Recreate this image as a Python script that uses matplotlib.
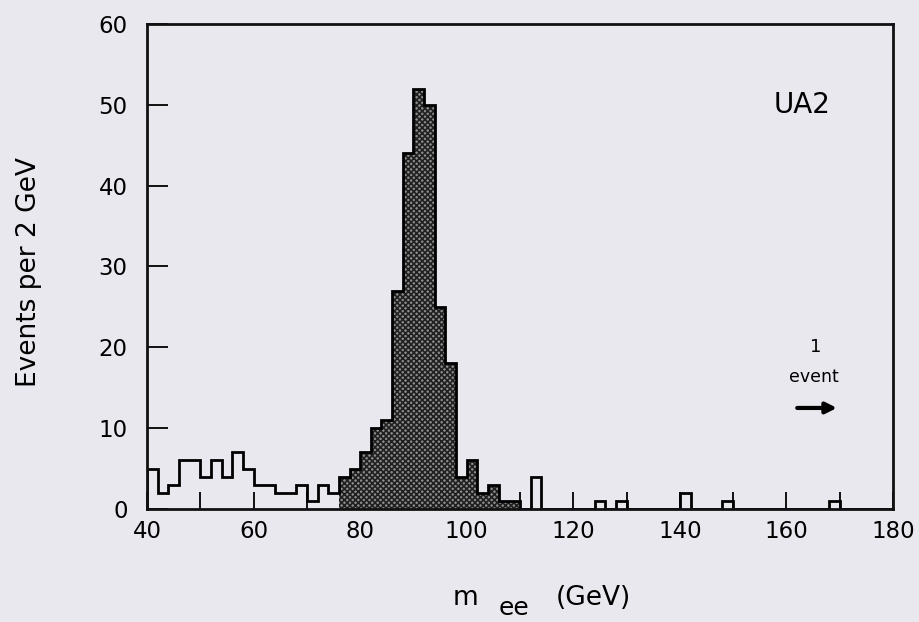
import numpy as np
import matplotlib
matplotlib.use("Agg")
import matplotlib.pyplot as plt

# ---- data (events per 2 GeV bin) ----
bin_edges = np.arange(40, 182, 2)

# open histogram, low-mass region 40-76 GeV
low_counts = [5, 2, 3, 6, 6, 4, 6, 4, 7, 5, 3, 3, 2, 2, 3, 1, 3, 2]
# shaded Z peak region 76-110 GeV
peak_counts = [4, 5, 7, 10, 11, 27, 44, 52, 50, 25, 18, 4, 6, 2, 3, 1, 1]
# open histogram, high-mass region 110-180 GeV
high_bins = [112, 124, 128, 140, 148, 168]     # lower edges of non-empty bins
high_vals = [4, 1, 1, 2, 1, 1]

n_bins = len(bin_edges) - 1
counts = np.zeros(n_bins)
counts[:len(low_counts)] = low_counts
counts[len(low_counts):len(low_counts) + len(peak_counts)] = peak_counts
for b, v in zip(high_bins, high_vals):
    counts[(b - 40) // 2] = v

peak_lo = 40 + 2 * len(low_counts)
peak_edges = np.arange(peak_lo, peak_lo + 2 * len(peak_counts) + 1, 2)

bg = "#e9e8ef"
fig = plt.figure(figsize=(9.19, 6.22), dpi=100, facecolor=bg)
ax = fig.add_axes([0.160, 0.1817, 0.8117, 0.7797])
ax.set_facecolor(bg)
ax.set_axisbelow(True)

plt.rcParams['hatch.linewidth'] = 1.2
# shaded peak
ax.stairs(peak_counts, peak_edges, fill=True, facecolor="#8c8c8c",
          edgecolor="#202020", hatch="xxxxxx", linewidth=0, zorder=2)
# outline of full histogram
ax.stairs(counts, bin_edges, fill=False, color="black", linewidth=2.0, zorder=3)

ax.set_xlim(40, 180)
ax.set_ylim(0, 60)
ax.set_xticks(np.arange(40, 181, 20))
ax.set_xticks(np.arange(50, 180, 20), minor=True)
ax.set_yticks(np.arange(0, 61, 10))
ax.tick_params(axis="both", which="both", direction="in", width=1.3,
               labelsize=16.5, colors="black")
ax.tick_params(axis="x", which="both", length=12, pad=8)
ax.tick_params(axis="y", which="both", length=15, pad=14)
ax.tick_params(axis="x", which="both", top=False)
ax.tick_params(axis="y", which="both", right=False)
for sp in ax.spines.values():
    sp.set_linewidth(2.0)
    sp.set_color("#111111")
    sp.set_zorder(4)

# annotations
ax.text(163, 50, "UA2", fontsize=20, ha="center", va="center")
ax.text(165.4, 20, "1", fontsize=13, ha="center", va="center")
ax.text(165.2, 16.3, "event", fontsize=12.5, ha="center", va="center")
ax.annotate("", xy=(170, 12.5), xytext=(161.5, 12.5),
            arrowprops=dict(arrowstyle="-|>", color="black", lw=3,
                            mutation_scale=16))

# axis labels
fig.text(29 / 919, 1 - 272 / 622, "Events per 2 GeV", rotation=90,
         fontsize=19, ha="center", va="center")
fig.text(466 / 919, 17 / 622, "m", fontsize=19, ha="center", va="baseline")
fig.text(514 / 919, 7 / 622, "ee", fontsize=18, ha="center", va="baseline")
fig.text(593 / 919, 17 / 622, "(GeV)", fontsize=19, ha="center", va="baseline")

fig.savefig("out.png", dpi=100, facecolor=bg)
